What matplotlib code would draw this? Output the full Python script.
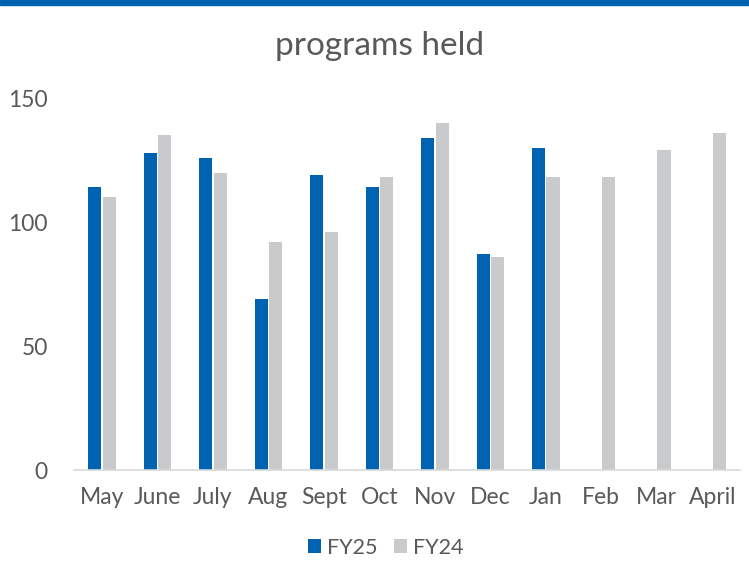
import matplotlib.pyplot as plt
import numpy as np
from matplotlib.patches import Rectangle

plt.rcParams['font.family'] = ['Lato', 'DejaVu Sans']

months = ['May', 'June', 'July', 'Aug', 'Sept', 'Oct', 'Nov', 'Dec', 'Jan', 'Feb', 'Mar', 'April']
fy25 = [114, 128, 126, 69, 119, 114, 134, 87, 130, np.nan, np.nan, np.nan]
fy24 = [110, 135, 120, 92, 96, 118, 140, 86, 118, 118, 129, 136]

BLUE = '#0063B1'
GRAY = '#C9CACC'
TEXT = '#595959'

fig = plt.figure(figsize=(7.49, 5.84), dpi=100)
ax = fig.add_axes([0.099, 0.195, 0.889, 0.637])

x = np.arange(len(months))
w = 0.235
ax.bar(x - 0.13, fy25, width=w, color=BLUE, label='FY25')
ax.bar(x + 0.13, fy24, width=w, color=GRAY, label='FY24')

ax.set_xlim(-0.5, len(months) - 0.5)
ax.set_ylim(0, 150)
ax.set_yticks([0, 50, 100, 150])
ax.set_xticks(x)
ax.set_xticklabels(months)
ax.tick_params(axis='both', length=0, labelsize=16.5, colors=TEXT)
ax.tick_params(axis='x', pad=12)
ax.tick_params(axis='y', pad=19)

for s in ['top', 'right', 'left']:
    ax.spines[s].set_visible(False)
ax.spines['bottom'].set_color('#D9D9D9')
ax.spines['bottom'].set_linewidth(1.2)

fig.text(0.507, 0.922, 'programs held', ha='center', va='center', fontsize=24, color=TEXT)

leg = fig.legend(loc='center', bbox_to_anchor=(0.515, 0.062), ncol=2, frameon=False,
                 fontsize=15.5, handlelength=0.6, handleheight=0.6, handletextpad=0.25,
                 columnspacing=0.8)
for t in leg.get_texts():
    t.set_color(TEXT)

# blue band across the top
fig.patches.append(Rectangle((0, 0.991), 1, 0.009, transform=fig.transFigure, color=BLUE))

fig.savefig('out.png', dpi=100)
